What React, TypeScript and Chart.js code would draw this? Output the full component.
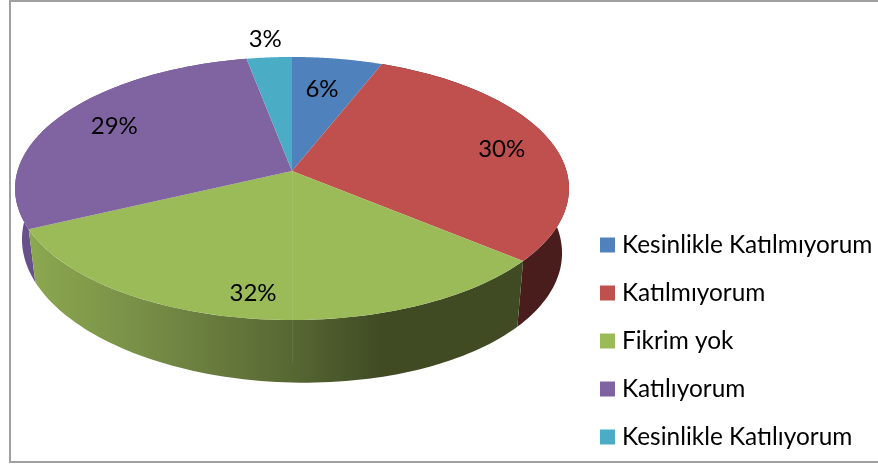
import React, { useEffect, useRef } from "react";
import { Chart, registerables } from "chart.js";

Chart.register(...registerables);

const categories = [
  "Kesinlikle Katılmıyorum",
  "Katılmıyorum",
  "Fikrim yok",
  "Katılıyorum",
  "Kesinlikle Katılıyorum",
];
const percentages = [6, 30, 32, 29, 3];
const colors = ["#4f81bd", "#c0504d", "#9bbb59", "#8064a2", "#4bacc6"];
const labelRadii = [0.7, 0.81, 0.85, 0.76, 1.2];
const labelNudgeX = [-3, 0, -6, 0, 0];
const labelNudgeY = [0, 4, 0, -2, 1];
const sideDrawOrder = [3, 1, 2];
const sideStops: Record<number, [number, string][]> = {
  1: [[0, "#4a1d1d"], [1, "#4a1d1d"]],
  2: [[0, "#8ba74f"], [0.22, "#788f47"], [0.53, "#586833"], [0.72, "#404b24"], [1, "#404b24"]],
  3: [[0, "#68508a"], [1, "#68508a"]],
};

const FONT = "Lato, 'Open Sans', sans-serif";
const TILT = 0.133;
const Y_RATIO = 129.2 / 274.5;

function project(cx: number, cy: number, R: number, angle: number, f = 1) {
  const u = Math.cos(angle) * f;
  const v = Math.sin(angle) * f;
  const w = 1 - TILT * v;
  return { x: cx + (R * u) / w, y: cy + (R * Y_RATIO * v) / w };
}
function projectBase(cx: number, cy: number, R: number, angle: number) {
  const u = Math.cos(angle);
  const v = Math.sin(angle);
  const w = 1 - TILT * v;
  return { x: cx + (0.975 * R * u) / w, y: cy + 57 + 7 * u + (134 * v) / w };
}

const pie3d = {
  id: "pie3d",
  beforeDatasetDraw(chart: any) {
    const ctx = chart.ctx;
    const arcs = chart.getDatasetMeta(0).data;
    ctx.save();
    for (const i of sideDrawOrder) {
      const a = arcs[i];
      const n = 80;
      ctx.beginPath();
      for (let k = 0; k <= n; k++) {
        const t = a.startAngle + ((a.endAngle - a.startAngle) * k) / n;
        const p = project(a.x, a.y, a.outerRadius, t);
        k ? ctx.lineTo(p.x, p.y) : ctx.moveTo(p.x, p.y);
      }
      for (let k = n; k >= 0; k--) {
        const t = a.startAngle + ((a.endAngle - a.startAngle) * k) / n;
        const p = projectBase(a.x, a.y, a.outerRadius, t);
        ctx.lineTo(p.x, p.y);
      }
      ctx.closePath();
      const g = ctx.createLinearGradient(33, 0, 516, 0);
      sideStops[i].forEach(([o, c]) => g.addColorStop(o, c));
      ctx.fillStyle = g;
      ctx.fill();
    }
    arcs.forEach((a: any, i: number) => {
      const n = 100;
      ctx.beginPath();
      ctx.moveTo(a.x, a.y);
      for (let k = 0; k <= n; k++) {
        const t = a.startAngle + ((a.endAngle - a.startAngle) * k) / n;
        const p = project(a.x, a.y, a.outerRadius, t);
        ctx.lineTo(p.x, p.y);
      }
      ctx.closePath();
      ctx.fillStyle = colors[i];
      ctx.fill();
    });
    ctx.restore();
    return false;
  },
  afterDatasetsDraw(chart: any) {
    const ctx = chart.ctx;
    const arcs = chart.getDatasetMeta(0).data;
    ctx.save();
    ctx.fillStyle = "rgba(255,255,255,0.08)";
    ctx.fillRect(arcs[0].x, arcs[0].y, 1, 192);
    ctx.fillStyle = "#000";
    ctx.font = `24px ${FONT}`;
    ctx.textAlign = "center";
    ctx.textBaseline = "middle";
    arcs.forEach((a: any, i: number) => {
      const mid = (a.startAngle + a.endAngle) / 2;
      const p = project(a.x, a.y, a.outerRadius, mid, labelRadii[i]);
      ctx.fillText(`${percentages[i]}%`, p.x + labelNudgeX[i], p.y + labelNudgeY[i]);
    });
    ctx.textAlign = "left";
    ctx.font = `24.4px ${FONT}`;
    categories.forEach((c, i) => {
      const y = 245 + i * 48;
      ctx.fillStyle = colors[i];
      ctx.fillRect(600, y - 7.5, 15, 15);
      ctx.fillStyle = "#000";
      ctx.fillText(c, 622, y);
    });
    ctx.strokeStyle = "#a0a0a0";
    ctx.lineWidth = 2;
    ctx.strokeRect(10, 1, 880, 461);
    ctx.restore();
  },
};

export default function App() {
  const ref = useRef<HTMLCanvasElement>(null);
  useEffect(() => {
    const chart = new Chart(ref.current!, {
      type: "pie",
      data: {
        labels: categories,
        datasets: [{ data: percentages, backgroundColor: colors, borderWidth: 0, clip: false } as any],
      },
      options: {
        animation: false,
        responsive: false,
        radius: 274.5,
        layout: { padding: { right: 294, bottom: 122 } },
        plugins: { legend: { display: false }, tooltip: { enabled: false } },
      } as any,
      plugins: [pie3d],
    });
    return () => chart.destroy();
  }, []);
  return (
    <div style={{ position: "absolute", left: 0, top: 0 }}>
      <canvas ref={ref} width={878} height={464} style={{ display: "block" }} />
    </div>
  );
}
